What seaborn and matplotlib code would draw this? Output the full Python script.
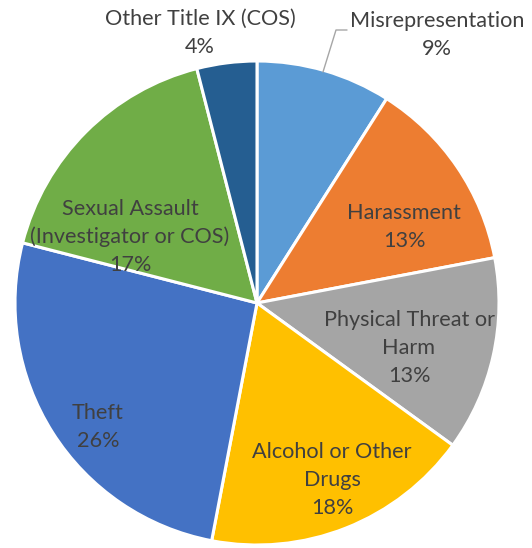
import matplotlib
matplotlib.use("Agg")
import matplotlib.pyplot as plt
import seaborn as sns

categories = ["Misrepresentation", "Harassment", "Physical Threat or\nHarm",
              "Alcohol or Other\nDrugs", "Theft",
              "Sexual Assault\n(Investigator or COS)", "Other Title IX (COS)"]
values = [9, 13, 13, 18, 26, 17, 4]
colors = ["#5B9BD5", "#ED7D31", "#A5A5A5", "#FFC000", "#4472C4", "#70AD47", "#255E91"]

sns.set_theme(style="white")
plt.rcParams['font.family'] = ['Lato', 'DejaVu Sans']

W, H = 532, 548
fig = plt.figure(figsize=(W / 100, H / 100), dpi=100)
cx, cy, R = 257, 303, 242
ax = fig.add_axes([(cx - R) / W, (H - cy - R) / H, 2 * R / W, 2 * R / H])
ax.pie(values, colors=sns.color_palette(colors), startangle=90, counterclock=False,
       radius=1, wedgeprops=dict(edgecolor="white", linewidth=2.2))
ax.set_xlim(-1, 1)
ax.set_ylim(-1, 1)
ax.axis("off")

def P(px, py):
    return ((px - cx) / R, (cy - py) / R)

label_pos = [(437, 35), (404, 227), (409, 348), (332, 480), (98, 427), (130, 237), (200, 33)]
for cat, v, (px, py) in zip(categories, values, label_pos):
    x, y = P(px, py)
    ax.text(x, y, f"{cat}\n{v}%", ha="center", va="center", fontsize=15.6,
            color="#404040", linespacing=1.5, clip_on=False)

# leader line for Misrepresentation
pts = [P(323, 72), P(336, 30), P(347, 30)]
ax.plot([p[0] for p in pts], [p[1] for p in pts], color="#A6A6A6", lw=1, clip_on=False)

fig.savefig("out.png", dpi=100)
